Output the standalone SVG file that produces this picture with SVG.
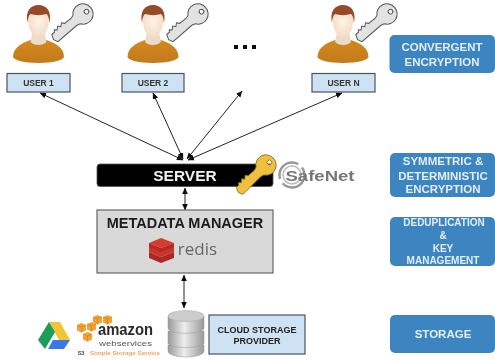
<svg xmlns="http://www.w3.org/2000/svg" xmlns:xlink="http://www.w3.org/1999/xlink" width="495" height="360" viewBox="0 0 495 360">
<style>
text{font-family:"Liberation Sans",Arial,sans-serif;font-weight:700;text-anchor:middle}
.user{fill:#cfe2f3;stroke:#4a5560;stroke-width:1.2}
.ulabel{font-size:8.5px;fill:#333}
.tag{fill:#3d85c0}
.tagt{font-size:11.5px;fill:#e4eef7}
.tags{font-size:10px;fill:#e4eef7}
.conn{fill:none;stroke:#222;stroke-width:1;marker-start:url(#ah);marker-end:url(#ah)}
.cyl{fill:url(#silver);stroke:#999;stroke-width:.5}
.cube{fill:#f5a030}
</style>
<defs>
<filter id="soft" x="-2%" y="-2%" width="104%" height="104%"><feGaussianBlur stdDeviation="0.25"/></filter>
<marker id="ah" viewBox="0 0 8 8" refX="7.500" refY="4" markerWidth="6.500" markerHeight="6.500" orient="auto-start-reverse" markerUnits="userSpaceOnUse"><path d="M0 .5L8 4L0 7.500z" fill="#111"/></marker>
<linearGradient id="body" x1="0" y1="0" x2="0" y2="1"><stop offset="0" stop-color="#d4891f"/><stop offset="1" stop-color="#c27a1a"/></linearGradient>
<radialGradient id="face" cx=".5" cy=".4" r=".7"><stop offset="0" stop-color="#fdf3e8"/><stop offset="1" stop-color="#f3d5bb"/></radialGradient>
<linearGradient id="silver" x1="0" y1="0" x2="1" y2="0"><stop offset="0" stop-color="#999"/><stop offset=".45" stop-color="#eee"/><stop offset="1" stop-color="#999"/></linearGradient>
<g id="person">
<path d="M-25.500 57C-25 48-19 44-8 40L8 40C19 44 25 48 25.500 57C25 60 14 63 0 63C-14 63-25 60-25.500 57z" fill="url(#body)"/>
<path d="M-6 32L6 32L8 42C4 46-4 46-8 42z" fill="#e8dccd"/>
<path d="M-10.500 17C-10.500 9 10.500 9 10.500 17C11 29 5 38 0 38C-5 38-11 29-10.500 17z" fill="url(#face)"/>
<path d="M-11 23C-13.500 11-8 5 0 5C8 5 13.500 11 11 23C10.500 18 10 16 8 14C3 15.500-3 15.500-8 14C-10 16-10.500 18-11 23z" fill="#934c2a"/>
</g>
<path id="key" fill-rule="evenodd" d="M-10 0A10 10 0 0 1 8.500-5.500L12-4.500L37-4.500L39 0L37 5L33.500 5L32 7L30 5L27 7.500L25 5L22 7.500L20 5L12 4.500L8.500 5.500A10 10 0 0 1-10 0zM-6.500-.5A2.300 2.300 0 1 0-1.900-.5A2.300 2.300 0 1 0-6.500-.5z"/>
<g id="cube"><path class="cube" d="M0 2L4.500 0L9 2L9 7.500L4.500 9.500L0 7.500z"/><path d="M0 2L4.500 4L9 2M4.500 4V9.500" fill="none" stroke="#c87610" stroke-width=".5"/></g>
</defs>
<rect width="495" height="360" fill="#fff"/>
<g filter="url(#soft)">
<g id="connectors">
<line class="conn" x1="40" y1="93" x2="183" y2="160"/>
<line class="conn" x1="153" y1="93" x2="183" y2="159"/>
<line class="conn" x1="242" y1="91" x2="187" y2="159"/>
<line class="conn" x1="342" y1="93" x2="188" y2="160"/>
<line class="conn" x1="185" y1="188" x2="185" y2="210"/>
<line class="conn" x1="184" y1="275" x2="184" y2="308"/>
</g>
<g id="user-1"><use xlink:href="#person" href="#person" transform="translate(38.500,0)"/><use href="#key" xlink:href="#key" transform="translate(83,14) rotate(139)" fill="#e2e2e2" stroke="#555" stroke-width="1"/><rect class="user" x="7" y="73.500" width="63" height="18.500"/><text class="ulabel" x="38.500" y="86">USER 1</text></g>
<g id="user-2"><use xlink:href="#person" href="#person" transform="translate(153,0)"/><use href="#key" xlink:href="#key" transform="translate(198,14) rotate(139)" fill="#e2e2e2" stroke="#555" stroke-width="1"/><rect class="user" x="122" y="73.500" width="62" height="18.500"/><text class="ulabel" x="153" y="86">USER 2</text></g>
<g id="ellipsis" fill="#111"><rect x="234" y="45" width="4" height="4"/><rect x="243" y="45" width="4" height="4"/><rect x="252" y="45" width="4" height="4"/></g>
<g id="user-n"><use xlink:href="#person" href="#person" transform="translate(343,0)"/><use href="#key" xlink:href="#key" transform="translate(387,14) rotate(139)" fill="#e2e2e2" stroke="#555" stroke-width="1"/><rect class="user" x="312" y="73.500" width="63" height="18.500"/><text class="ulabel" x="343.500" y="86">USER N</text></g>
<g id="server"><rect x="97" y="164" width="176" height="22.500" rx="3" fill="#000" stroke="#555" stroke-width=".8"/><text x="185" y="181" font-size="15.500" fill="#f2f2f2">SERVER</text><use href="#key" xlink:href="#key" transform="translate(266,165) rotate(135)" fill="#efc03f" stroke="#8a6a14" stroke-width=".8"/></g>
<g id="safenet"><circle cx="292" cy="175" r="12.500" fill="none" stroke="#999" stroke-width="2.500" stroke-dasharray="30 5"/><circle cx="292" cy="175" r="9" fill="none" stroke="#bbb" stroke-width="1.500"/><text x="320" y="181" font-size="14.500" fill="#777" textLength="69" lengthAdjust="spacingAndGlyphs">SafeNet</text></g>
<g id="metadata-manager"><rect x="97" y="210" width="176" height="63" fill="#d9d9d9" stroke="#666" stroke-width="1.200"/><text x="185" y="228" font-size="14.500" fill="#1c1c1c">METADATA MANAGER</text>
<path d="M149 252L161 257L174 252L174 258L161 263L149 258z" fill="#a92a20"/><path d="M149 246L161 251L174 246L174 252L161 257L149 252z" fill="#c93428"/><path d="M149 243L161 238L174 243L161 248z" fill="#d83b2e"/><path d="M149 243L161 248L174 243L174 247L161 252L149 247z" fill="#b52c22"/>
<text x="197.500" y="255" font-size="17" fill="#666" style="font-family:'Open Sans',sans-serif;font-weight:400">redis</text></g>
<g id="database"><path class="cyl" d="M168 345V351C168 359 204 359 204 351V345z"/><path class="cyl" d="M168 331V343C168 349 204 349 204 343V331z"/><path class="cyl" d="M168 316V328C168 335 204 335 204 328V316z"/><ellipse cx="186" cy="316" rx="18" ry="5.500" fill="#ccc" stroke="#aaa" stroke-width=".5"/></g>
<g id="cloud-storage-provider"><rect x="209" y="315" width="96" height="39" fill="#cfe2f3" stroke="#4a5560" stroke-width="1.200"/><text x="257" y="333" font-size="9" fill="#222">CLOUD STORAGE</text><text x="257" y="344" font-size="9" fill="#222">PROVIDER</text></g>
<g id="google-drive"><path d="M49 322L60 322L70 340L59 340z" fill="#f4c430"/><path d="M49 322L55 332L45 349L38 340z" fill="#1e9e5a"/><path d="M48 349L64 349L70 340L53 340z" fill="#3b78e7"/></g>
<g id="aws">
<use href="#cube" xlink:href="#cube" transform="translate(93,315)"/><use href="#cube" xlink:href="#cube" transform="translate(103,315)"/><use href="#cube" xlink:href="#cube" transform="translate(77,323)"/><use href="#cube" xlink:href="#cube" transform="translate(87,322)"/><use href="#cube" xlink:href="#cube" transform="translate(83,332)"/>
<text x="125.500" y="334.500" font-size="16.500" fill="#2a2a2a" textLength="55" lengthAdjust="spacingAndGlyphs">amazon</text>
<text x="125.500" y="346" font-size="8" fill="#555" textLength="53" lengthAdjust="spacingAndGlyphs" style="font-weight:400">webservices</text>
<text x="81" y="355" font-size="5.500" fill="#444">S3</text>
<text x="125" y="355" font-size="6" fill="#f7a35c" textLength="70" lengthAdjust="spacingAndGlyphs">Simple Storage Service</text></g>
<g id="tag-convergent"><rect class="tag" x="389.500" y="35" width="105.500" height="38" rx="5"/><text class="tagt" x="442" y="51">CONVERGENT</text><text class="tagt" x="442" y="66">ENCRYPTION</text></g>
<g id="tag-symmetric"><rect class="tag" x="390" y="153" width="105" height="44" rx="5"/><text class="tagt" x="443" y="165">SYMMETRIC &amp;</text><text class="tagt" x="443" y="180">DETERMINISTIC</text><text class="tagt" x="443" y="193">ENCRYPTION</text></g>
<g id="tag-dedup"><rect class="tag" x="390" y="217" width="105" height="49" rx="5"/><text class="tags" x="444" y="226">DEDUPLICATION</text><text class="tags" x="443" y="239">&amp;</text><text class="tags" x="443" y="252">KEY</text><text class="tags" x="443" y="264">MANAGEMENT</text></g>
<g id="tag-storage"><rect class="tag" x="390" y="315" width="105" height="38" rx="5"/><text class="tagt" x="443" y="338">STORAGE</text></g>
</g>
</svg>
